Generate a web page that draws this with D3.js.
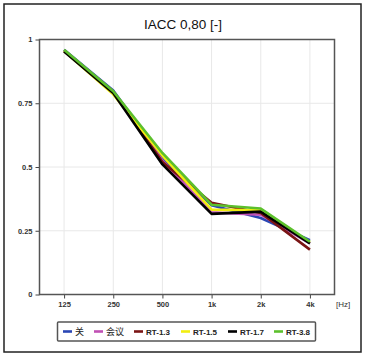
<!DOCTYPE html>
<html><head><meta charset="utf-8">
<script src="https://cdn.jsdelivr.net/npm/d3@7/dist/d3.min.js"></script>
<style>body{margin:0;background:#fff;}svg{display:block;font-family:"Liberation Sans",Arial,sans-serif;}</style>
</head><body>
<script>
const categories = ["125","250","500","1k","2k","4k"];
const seriesNames = ["关","会议","RT-1.3","RT-1.5","RT-1.7","RT-3.8"];
const seriesColors = ["#2a46b4","#c050b4","#7a1414","#f2ee10","#000000","#5cc02c"];
const guan   = [0.960,0.800,0.535,0.350,0.300,0.213];
const huiyi  = [0.958,0.795,0.525,0.322,0.313,0.200];
const rt13   = [0.955,0.795,0.520,0.360,0.320,0.176];
const rt15   = [0.955,0.785,0.545,0.333,0.330,0.203];
const rt17   = [0.953,0.790,0.510,0.316,0.325,0.200];
const rt38   = [0.960,0.797,0.555,0.352,0.337,0.207];
const seriesValues = [guan,huiyi,rt13,rt15,rt17,rt38];
const yTicks = [0,0.25,0.5,0.75,1];
const yTickLabels = ["0","0.25","0.5","0.75","1"];
const title = "IACC 0,80 [-]";
const unitLabel = "[Hz]";

const W=365,H=357;
const svg=d3.select("body").append("svg").attr("width",W).attr("height",H);
const L=39.5,R=334.5,T=39.5,B=294.5;
const x=d3.scalePoint().domain(categories).range([L,R]).padding(0.5);
const y=d3.scaleLinear().domain([0,1]).range([B,T]);

svg.append("rect").attr("x",4).attr("y",4).attr("width",357).attr("height",348)
  .attr("fill","#fff").attr("stroke","#222").attr("stroke-width",1.5);

svg.append("text").attr("x",183).attr("y",29).attr("text-anchor","middle")
  .attr("font-size",13.5).attr("fill","#111").text(title);

// grid
const g=svg.append("g");
g.selectAll(".gx").data(categories).enter().append("line")
  .attr("x1",d=>x(d)).attr("x2",d=>x(d)).attr("y1",T).attr("y2",B)
  .attr("stroke","#e8e8e8").attr("stroke-width",1);
g.selectAll(".gy").data(yTicks).enter().append("line")
  .attr("x1",L).attr("x2",R).attr("y1",d=>y(d)).attr("y2",d=>y(d))
  .attr("stroke","#e8e8e8").attr("stroke-width",1);

// axes
const xAxis=svg.append("g").attr("transform",`translate(0,${B})`)
  .call(d3.axisBottom(x).tickSize(4).tickPadding(3));
const yAxis=svg.append("g").attr("transform",`translate(${L},0)`)
  .call(d3.axisLeft(y).tickValues(yTicks).tickFormat((d,i)=>yTickLabels[i]).tickSize(4).tickPadding(3));
[xAxis,yAxis].forEach(a=>{
  a.select(".domain").remove();
  a.selectAll(".tick line").attr("stroke","#444");
  a.selectAll(".tick text").attr("font-size",7.5).attr("fill","#333").attr("font-family","Liberation Sans, Arial, sans-serif").attr("font-weight","bold");
});

// lines
const line=d3.line().x((d,i)=>x(categories[i])).y(d=>y(d));
seriesValues.forEach((vals,k)=>{
  svg.append("path").datum(vals).attr("d",line).attr("fill","none")
    .attr("stroke",seriesColors[k]).attr("stroke-width",2.6).attr("stroke-linejoin","round");
});

// plot frame
svg.append("rect").attr("x",L).attr("y",T).attr("width",R-L).attr("height",B-T)
  .attr("fill","none").attr("stroke","#555").attr("stroke-width",1.5);

svg.append("text").attr("x",336).attr("y",307).attr("font-size",8).attr("fill","#333").text(unitLabel);

// legend
svg.append("rect").attr("x",57.5).attr("y",322).attr("width",258).attr("height",19)
  .attr("fill","#fff").attr("stroke","#555").attr("stroke-width",1.5).attr("rx",1);
const legX=[63,94,134,181,228,274];
seriesNames.forEach((n,k)=>{
  svg.append("line").attr("x1",legX[k]).attr("x2",legX[k]+9).attr("y1",331.5).attr("y2",331.5)
    .attr("stroke",seriesColors[k]).attr("stroke-width",2.6);
  svg.append("text").attr("x",legX[k]+12).attr("y",334.5).attr("font-size",k<2?9:8)
    .attr("font-family",k<2?"Noto Sans CJK SC":"Liberation Sans, Arial, sans-serif")
    .attr("fill","#222").attr("font-weight",k<2?"normal":"bold").text(n);
});
</script>
</body></html>
